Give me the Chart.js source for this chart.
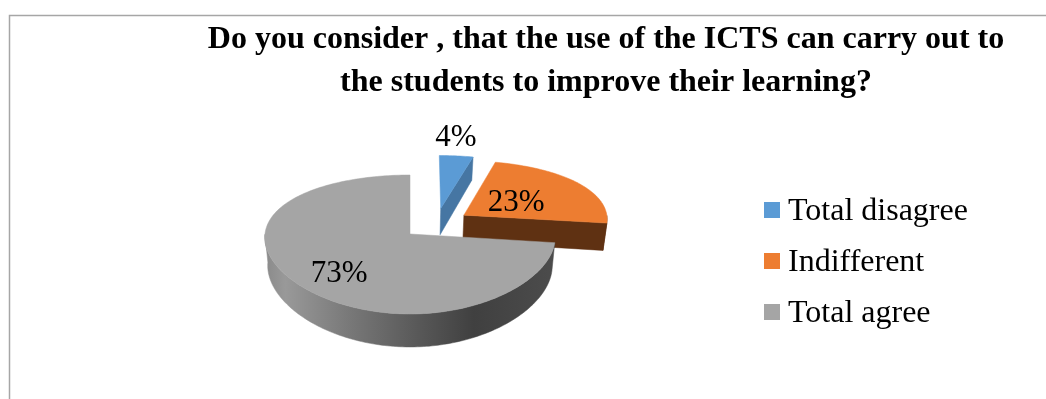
<!DOCTYPE html>
<html>
<head>
<meta charset="utf-8">
<title>ICTS survey</title>
<script src="https://cdn.jsdelivr.net/npm/chart.js@4"></script>
<style>
  html, body { margin: 0; padding: 0; background: #fff; }
  canvas { display: block; }
</style>
</head>
<body>
<canvas id="chart" width="1046" height="399"></canvas>
<script>
var titleLines = [
    "Do you consider , that the use of the ICTS can carry out to",
    "the students to improve their learning?"
];
var categories = ["Total disagree", "Indifferent", "Total agree"];
var percentages = [4, 23, 73];

var serif = "'Liberation Serif', 'Times New Roman', serif";
var topColors = ["#5B9BD5", "#ED7D31", "#A5A5A5"];
var wallColors = ["#4676A3", "#5F3112", null];

// exploded slices are pushed out on the disc, in units of the radius
var sliceShift = [[0.216, -0.4], [0.377, -0.29], [0, 0]];
// where each percentage sits, same disc units
var labelSpots = [[0.345, -1.8], [0.75, -0.5], [-0.476, 0.54]];

var pie = { x: 410, y: 234, rx: 145, ry: 67.9, px: 0.05, py: 0.151, depth: 28, shrink: 0.98 };
var legendBox = { x: 764, textX: 788, size: 16, firstY: 210, step: 51, baseline: 9.5 };

// flat disc coordinates to the tilted view, dz is how far down the wall
function project(u, v, dz) {
    var x = pie.rx * u / (1 - pie.px * v);
    var y = pie.ry * v / (1 - pie.py * v);
    if (dz) {
        x = x * pie.shrink;
        y = y + dz * pie.depth / (1 - pie.py * v);
    }
    return { x: pie.x + x, y: pie.y + y };
}

function rimPoint(i, angle, dz) {
    return project(sliceShift[i][0] + Math.cos(angle), sliceShift[i][1] + Math.sin(angle), dz);
}

function tracePoints(ctx, pts, color) {
    ctx.beginPath();
    pts.forEach(function(p, n) {
        if (n === 0) ctx.moveTo(p.x, p.y); else ctx.lineTo(p.x, p.y);
    });
    ctx.closePath();
    ctx.fillStyle = color;
    ctx.fill();
    ctx.strokeStyle = color;
    ctx.lineWidth = 0.5;
    ctx.stroke();
}

function grayWall(ctx) {
    var g = ctx.createLinearGradient(pie.x - pie.rx, 0, pie.x + pie.rx, 0);
    g.addColorStop(0, "#8A8A8A");
    g.addColorStop(0.07, "#999999");
    g.addColorStop(0.3, "#777777");
    g.addColorStop(0.53, "#585858");
    g.addColorStop(0.72, "#404040");
    g.addColorStop(1, "#4C4C4C");
    return g;
}

function drawSlice(ctx, arc, i) {
    var a0 = arc.startAngle, a1 = arc.endAngle;
    var steps = Math.ceil((a1 - a0) / 0.02);
    var top = [], wallTop = [], wallLow = [];
    for (var s = 0; s <= steps; s++) {
        var a = a0 + (a1 - a0) * s / steps;
        top.push(rimPoint(i, a, 0));
        // only the near half of the rim shows a wall
        if (Math.sin(a) >= 0) {
            wallTop.push(rimPoint(i, a, 0));
            wallLow.push(rimPoint(i, a, 1));
        }
    }
    var apex = project(sliceShift[i][0], sliceShift[i][1], 0);
    var apexLow = project(sliceShift[i][0], sliceShift[i][1], 1);

    if (wallTop.length > 1) {
        tracePoints(ctx, wallTop.concat(wallLow.reverse()), wallColors[i] || grayWall(ctx));
    }
    // the closing cut faces the viewer on the exploded slices
    if (wallColors[i]) {
        tracePoints(ctx, [apex, top[steps], rimPoint(i, a1, 1), apexLow], wallColors[i]);
    }
    tracePoints(ctx, [apex].concat(top), topColors[i]);
}

var tiltedPie = {
    id: "tiltedPie",
    beforeDraw: function(chart) {
        var ctx = chart.ctx;
        ctx.save();
        ctx.strokeStyle = "#A6A6A6";
        ctx.lineWidth = 1.5;
        ctx.beginPath();
        ctx.moveTo(9.5, 399);
        ctx.lineTo(9.5, 15.5);
        ctx.lineTo(1046, 15.5);
        ctx.stroke();
        ctx.restore();
    },
    // the doughnut controller gives the angles, the slices get drawn here in the tilted view
    beforeDatasetDraw: function(chart, args) {
        var ctx = chart.ctx;
        args.meta.data.forEach(function(arc, i) {
            drawSlice(ctx, arc, i);
        });
        return false;
    },
    afterDatasetsDraw: function(chart) {
        var ctx = chart.ctx;
        ctx.save();
        ctx.fillStyle = "#000";
        ctx.textBaseline = "middle";
        ctx.font = "31px " + serif;
        ctx.textAlign = "center";
        percentages.forEach(function(value, i) {
            var p = project(labelSpots[i][0], labelSpots[i][1], 0);
            ctx.fillText(value + "%", p.x, p.y);
        });

        ctx.font = "32px " + serif;
        ctx.textAlign = "left";
        ctx.textBaseline = "alphabetic";
        chart.data.labels.forEach(function(name, i) {
            var y = legendBox.firstY + legendBox.step * i;
            ctx.fillStyle = topColors[i];
            ctx.fillRect(legendBox.x, y - legendBox.size / 2, legendBox.size, legendBox.size);
            ctx.fillStyle = "#000";
            ctx.fillText(name, legendBox.textX, y + legendBox.baseline);
        });
        ctx.restore();
    }
};

var chart = new Chart(document.getElementById("chart"), {
    type: "pie",
    data: {
        labels: categories,
        datasets: [{
            data: percentages,
            backgroundColor: topColors,
            borderWidth: 0
        }]
    },
    options: {
        responsive: false,
        animation: false,
        layout: { padding: { left: 166, top: 18 } },
        plugins: {
            legend: { display: false },
            tooltip: { enabled: false },
            title: {
                display: true,
                text: titleLines,
                color: "#000",
                font: { family: serif, size: 32, weight: "bold", lineHeight: 1.34 },
                padding: { top: 0, bottom: 8 }
            }
        }
    },
    plugins: [tiltedPie]
});
</script>
</body>
</html>
